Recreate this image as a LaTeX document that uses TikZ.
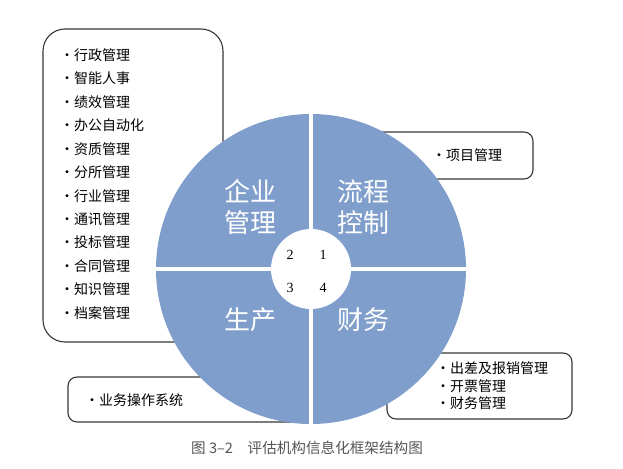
\documentclass[tikz,border=0pt]{standalone}
\usepackage{fontspec}
\newfontfamily\cjk{Noto Sans CJK SC}
\setmainfont{Liberation Serif}
\definecolor{discblue}{RGB}{127,158,203}
\definecolor{boxline}{RGB}{55,55,55}
\definecolor{capgray}{RGB}{85,85,85}
\tikzset{
  listbox/.style={draw=boxline,line width=1.1pt,fill=white},
  item/.style={anchor=west,inner sep=0pt,font=\cjk\fontsize{14}{16}\selectfont},
  quad/.style={align=center,text=white,font=\cjk\fontsize{26}{31}\selectfont},
  num/.style={font=\fontsize{14}{16}\selectfont}
}
\begin{document}
\begin{tikzpicture}[x=1pt,y=-1pt]
\useasboundingbox (0,0) rectangle (623,468);

% boxes behind the disc
\draw[listbox,rounded corners=22pt] (43,29) rectangle (223,342);
\draw[listbox,rounded corners=9pt] (340,132) rectangle (533,179);
\draw[listbox,rounded corners=9pt] (387,353) rectangle (572,419);
\draw[listbox,rounded corners=9pt] (68,377) rectangle (300,422);

% disc
\coordinate (c) at (311,269);
\fill[discblue] (c) circle[radius=155pt];
\draw[white,line width=4pt] (311,110) -- (311,428);
\draw[white,line width=4pt] (152,269) -- (470,269);
\fill[white] (c) circle[radius=40pt];

\node[quad] (qa) at (250,207) {企业\\管理};
\node[quad] (qb) at (363,207) {流程\\控制};
\node[quad] (qc) at (250,320) {生产};
\node[quad] (qd) at (363,320) {财务};

\node[num] (n2) at (290,255) {2};
\node[num] (n1) at (323,255) {1};
\node[num] (n3) at (290,288) {3};
\node[num] (n4) at (323,288) {4};

% left list
\node[item] (l1) at (60,55) {·行政管理};
\node[item] (l2) at (60,78.5) {·智能人事};
\node[item] (l3) at (60,102) {·绩效管理};
\node[item] (l4) at (60,125.3) {·办公自动化};
\node[item] (l5) at (60,148.8) {·资质管理};
\node[item] (l6) at (60,172.3) {·分所管理};
\node[item] (l7) at (60,195.7) {·行业管理};
\node[item] (l8) at (60,219.2) {·通讯管理};
\node[item] (l9) at (60,242.6) {·投标管理};
\node[item] (l10) at (60,266.1) {·合同管理};
\node[item] (l11) at (60,289.6) {·知识管理};
\node[item] (l12) at (60,313) {·档案管理};

% right lists
\node[item] (r1) at (432,155) {·项目管理};
\node[item] (f1) at (436,368) {·出差及报销管理};
\node[item] (f2) at (436,386) {·开票管理};
\node[item] (f3) at (436,403) {·财务管理};
\node[item] (p1) at (85,400) {·业务操作系统};

\node[text=capgray,font=\cjk\fontsize{14.6}{16}\selectfont] (cap) at (307,448) {图 3–2\quad 评估机构信息化框架结构图};
\end{tikzpicture}
\end{document}
